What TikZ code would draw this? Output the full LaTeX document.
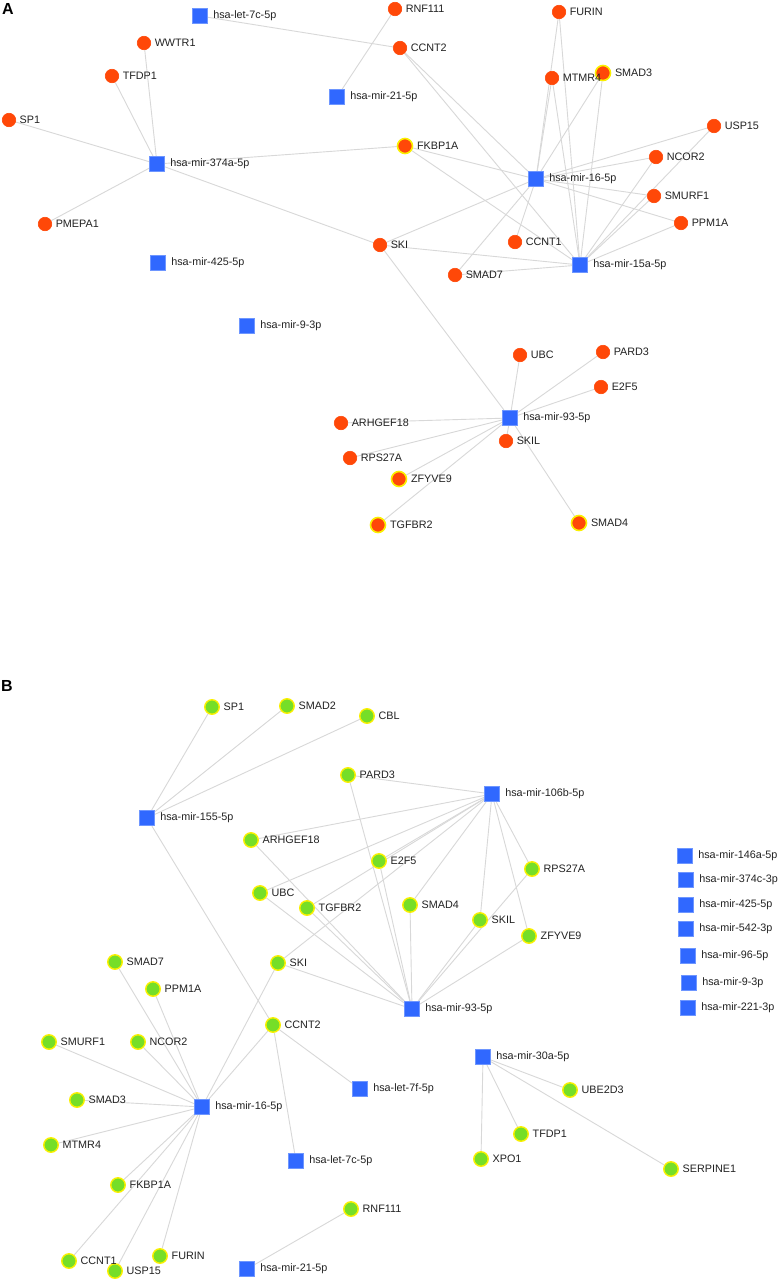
\documentclass[tikz,border=0pt]{standalone}
\usepackage{fontspec}
\setmainfont{Liberation Sans}
\usetikzlibrary{backgrounds}
\definecolor{orn}{RGB}{255,72,8}
\definecolor{grn}{RGB}{118,222,40}
\definecolor{ylw}{RGB}{250,240,0}
\definecolor{blu}{RGB}{48,104,255}
\definecolor{blub}{RGB}{110,150,255}
\definecolor{edg}{RGB}{216,216,216}
\definecolor{txt}{RGB}{34,34,34}
\tikzset{
  lab/.style={font=\fontsize{10.8}{12}\selectfont, text=txt, inner sep=0pt, anchor=west},
  glab/.style={lab, xshift=3.5pt},
  mlab/.style={lab, xshift=5pt},
  ogene/.style={circle, fill=orn, draw=orn, line width=0.6pt, minimum size=13.5pt, inner sep=0pt},
  hgene/.style={circle, fill=orn, draw=ylw, line width=1.6pt, minimum size=15pt, inner sep=0pt},
  ggene/.style={circle, fill=grn, draw=ylw, line width=1.4pt, minimum size=14.5pt, inner sep=0pt},
  mir/.style={rectangle, fill=blu, draw=blub, line width=0.6pt, minimum size=15.5pt, inner sep=0pt},
  edge/.style={draw=edg, line width=0.9pt},
  panel/.style={font=\fontsize{16}{18}\selectfont\bfseries, inner sep=0pt}
}
\begin{document}
\begin{tikzpicture}[x=1pt,y=-1pt]
\useasboundingbox (0,0) rectangle (777,1282);
\node[panel] (pA) at (8,9) {A};
\node[panel] (pB) at (7,686) {B};
% ---------- Panel A genes ----------
\foreach \n/\x/\y in {SMAD3/603/73, FKBP1A/405/146, ZFYVE9/399/479, TGFBR2/378/525, SMAD4/579/523}
  \node[hgene, label={[glab]right:\n}] (a\n) at (\x,\y) {};
\foreach \n/\x/\y in {WWTR1/144/43, TFDP1/112/76, SP1/9/120, PMEPA1/45/224, RNF111/395/9,
  CCNT2/400/48, FURIN/559/12, MTMR4/552/78, USP15/714/126, NCOR2/656/157, SMURF1/654/196,
  PPM1A/681/223, CCNT1/515/242, SKI/380/245, SMAD7/455/275, UBC/520/355, PARD3/603/352,
  E2F5/601/387, ARHGEF18/341/423, SKIL/506/441, RPS27A/350/458}
  \node[ogene, label={[glab]right:\n}] (a\n) at (\x,\y) {};
% ---------- Panel A miRNAs ----------
\foreach \n/\t/\x/\y in {let7c/hsa-let-7c-5p/200/16, mir21/hsa-mir-21-5p/337/97,
  mir374a/hsa-mir-374a-5p/157/164, mir16/hsa-mir-16-5p/536/179, mir425/hsa-mir-425-5p/158/263,
  mir15a/hsa-mir-15a-5p/580/265, mir9/hsa-mir-9-3p/247/326, mir93/hsa-mir-93-5p/510/418}
  \node[mir, label={[mlab]right:\t}] (a\n) at (\x,\y) {};
% ---------- Panel B genes ----------
\foreach \n/\x/\y in {SP1/212/707, SMAD2/287/706, CBL/367/716, PARD3/348/775, ARHGEF18/251/840,
  E2F5/379/861, RPS27A/532/869, UBC/260/893, TGFBR2/307/908, SMAD4/410/905, SKIL/480/920,
  ZFYVE9/529/936, SMAD7/115/962, SKI/278/963, PPM1A/153/989, CCNT2/273/1025, SMURF1/49/1042,
  NCOR2/138/1042, SMAD3/77/1100, MTMR4/51/1145, FKBP1A/118/1185, RNF111/351/1209,
  FURIN/160/1256, USP15/115/1271, CCNT1/69/1261, UBE2D3/570/1090, TFDP1/521/1134,
  XPO1/481/1159, SERPINE1/671/1169}
  \node[ggene, label={[glab]right:\n}] (b\n) at (\x,\y) {};
% ---------- Panel B miRNAs ----------
\foreach \n/\t/\x/\y in {mir155/hsa-mir-155-5p/147/818, mir106b/hsa-mir-106b-5p/492/794,
  mir146a/hsa-mir-146a-5p/685/856, mir374c/hsa-mir-374c-3p/686/880, mir425/hsa-mir-425-5p/686/905,
  mir542/hsa-mir-542-3p/686/929, mir96/hsa-mir-96-5p/688/956, mir9/hsa-mir-9-3p/689/983,
  mir221/hsa-mir-221-3p/688/1008, mir93/hsa-mir-93-5p/412/1009, mir30a/hsa-mir-30a-5p/483/1057,
  let7f/hsa-let-7f-5p/360/1089, mir16/hsa-mir-16-5p/202/1107, let7c/hsa-let-7c-5p/296/1161,
  mir21/hsa-mir-21-5p/247/1269}
  \node[mir, label={[mlab]right:\t}] (b\n) at (\x,\y) {};
% ---------- Edges ----------
\begin{scope}[on background layer]
\fill[white] (0,0) rectangle (777,1282);
\draw[edge] (alet7c) -- (aCCNT2);
\draw[edge] (amir21) -- (aRNF111);
\foreach \g in {WWTR1,TFDP1,SP1,PMEPA1,FKBP1A,SKI} \draw[edge] (amir374a) -- (a\g);
\foreach \g in {FKBP1A,CCNT2,FURIN,MTMR4,SMAD3,USP15,NCOR2,SMURF1,PPM1A,CCNT1,SKI,SMAD7}
  \draw[edge] (amir16) -- (a\g);
\foreach \g in {FKBP1A,CCNT2,FURIN,MTMR4,SMAD3,USP15,NCOR2,SMURF1,PPM1A,SKI,SMAD7}
  \draw[edge] (amir15a) -- (a\g);
\foreach \g in {SKI,UBC,PARD3,E2F5,ARHGEF18,SKIL,RPS27A,ZFYVE9,TGFBR2,SMAD4}
  \draw[edge] (amir93) -- (a\g);
\foreach \g in {SP1,SMAD2,CBL,CCNT2} \draw[edge] (bmir155) -- (b\g);
\foreach \g in {PARD3,ARHGEF18,UBC,E2F5,TGFBR2,SKI,SMAD4,SKIL,RPS27A,ZFYVE9}
  \draw[edge] (bmir106b) -- (b\g);
\foreach \g in {PARD3,ARHGEF18,UBC,E2F5,TGFBR2,SKI,SMAD4,SKIL,RPS27A,ZFYVE9}
  \draw[edge] (bmir93) -- (b\g);
\foreach \g in {SMAD7,PPM1A,NCOR2,SMURF1,SMAD3,MTMR4,FKBP1A,CCNT1,USP15,FURIN,SKI,CCNT2}
  \draw[edge] (bmir16) -- (b\g);
\draw[edge] (bCCNT2) -- (blet7f);
\draw[edge] (bCCNT2) -- (blet7c);
\draw[edge] (bmir21) -- (bRNF111);
\foreach \g in {UBE2D3,TFDP1,XPO1,SERPINE1} \draw[edge] (bmir30a) -- (b\g);
\end{scope}
\end{tikzpicture}
\end{document}
